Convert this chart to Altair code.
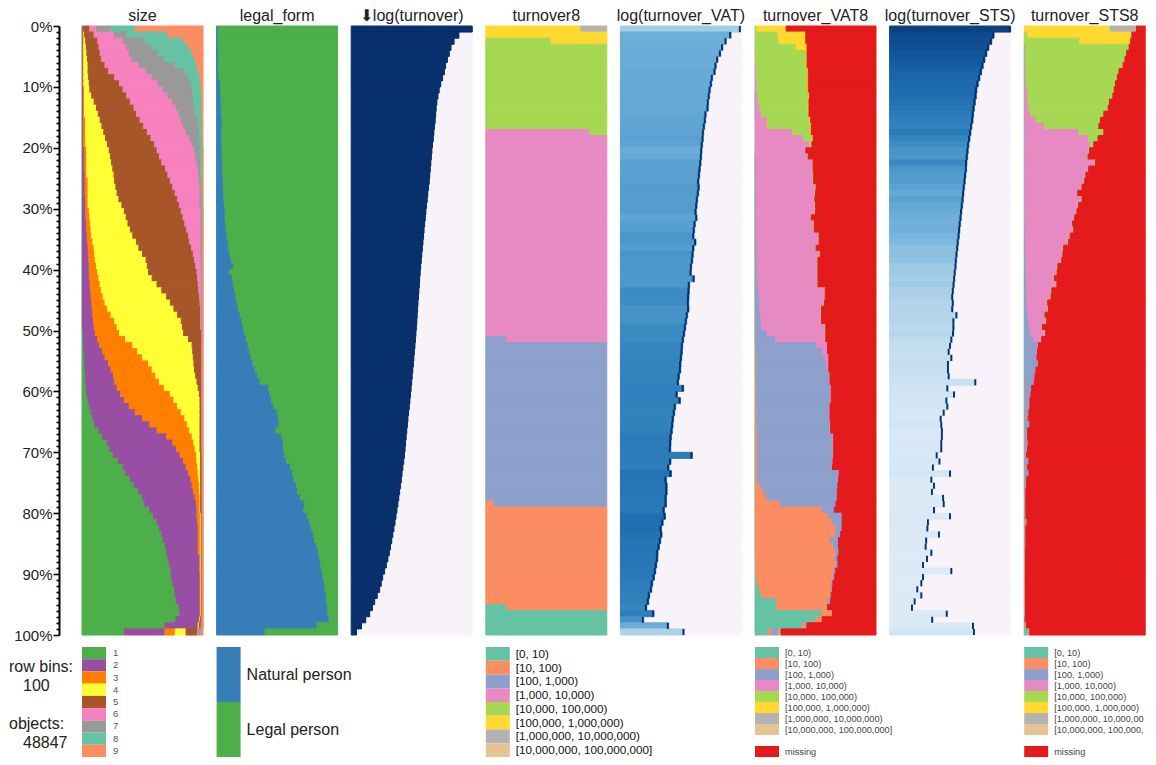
import altair as alt
import pandas as pd

# ---------------- data ----------------
N_OBJECTS = 48847
N_BINS = 100
ROWS = list(range(N_BINS))

size_labels = ["1", "2", "3", "4", "5", "6", "7", "8", "9"]
size_colors = ["#4DAF4A", "#984EA3", "#FF7F00", "#FFFF33", "#A65628",
               "#F781BF", "#999999", "#66C2A5", "#FC8D62"]

# cumulative right edge (% of row) of size classes 1..8 (class 9 fills the rest)
size_b1 = [0.4, 0.4, 0.4, 0.4, 0.4, 0.4, 0.4, 0.4, 0.4, 0.4,
           0.4, 0.4, 0.4, 0.4, 0.4, 0.4, 0.4, 0.4, 0.4, 0.4,
           0.4, 0.4, 0.4, 0.4, 0.4, 0.4, 0.4, 0.4, 0.4, 0.4,
           0.4, 0.4, 0.4, 0.4, 0.4, 0.4, 0.4, 0.4, 0.4, 0.4,
           0.4, 0.4, 0.4, 0.4, 0.4, 0.4, 0.4, 0.4, 0.4, 0.4,
           1, 1, 1.5, 1.5, 2, 2, 2.5, 3, 3, 3.5,
           4, 5, 6, 7.5, 9, 10.5, 14, 17, 21, 23,
           26, 30, 34, 36, 40, 43, 47, 50, 52, 56,
           59, 62, 64, 66, 67, 69, 70, 71, 72.5, 73.5,
           74, 75, 76.5, 77, 78, 80, 81, 77.5, 68.5, 35]
size_b2 = [1, 1, 1, 1, 1, 1, 1, 1, 1, 1,
           1.3, 1.3, 1.3, 1.3, 1.3, 1.3, 1.3, 1.3, 1.3, 1.3,
           2, 2, 2, 2, 2.5, 2.5, 2.5, 2.5, 3, 3,
           3, 3.2, 3.5, 3.8, 4.2, 4.5, 5, 5.3, 5.6, 5.8,
           6, 6.3, 6.7, 7, 7.5, 8, 8.5, 9, 9.5, 10,
           11, 13, 14.6, 17, 19, 22, 24, 26, 27, 29,
           32, 35, 39, 44, 50, 56, 62, 70, 75, 78,
           81, 84, 86, 88, 90, 91, 92, 93.5, 94.5, 95,
           95, 95.5, 96, 96, 96, 96, 96, 97.5, 97.5, 97.5,
           97.5, 97.5, 97.5, 97.5, 97.5, 97.5, 97.5, 97, 95.5, 68.5]
size_b3 = [1.5, 1.5, 1.5, 1.5, 1.5, 1.5, 1.5, 1.5, 1.5, 1.5,
           2, 2, 2, 2, 2, 3, 3, 3, 3, 3,
           4, 4, 4, 4, 4, 5, 5, 5, 5, 5,
           6, 6.5, 7, 7.5, 8, 9, 10, 10.5, 11, 12,
           13, 14, 15, 16, 17.5, 19, 21, 24, 27, 29,
           31, 36, 42, 46, 50, 55, 58, 61, 64, 68,
           73, 76, 79, 82, 85, 87, 89, 91, 92.5, 93.5,
           94.5, 95, 95.5, 96, 96.5, 97, 97, 97.5, 97.5, 97.5,
           97.8, 97.8, 97.8, 97.8, 97.8, 97.8, 97.8, 97.8, 97.8, 97.8,
           98, 98, 98, 98, 98, 98, 98, 97.5, 96.5, 77]
size_b4 = [1.5, 2, 3, 3.5, 4, 4.5, 5, 5, 5.5, 6,
           6.5, 8, 10, 12, 13.5, 15, 16.5, 18, 19.5, 21,
           22.5, 23.5, 24.5, 25.5, 26.5, 27, 28, 29, 30.5, 33,
           35, 36.5, 38, 40, 42, 45, 47, 50, 53, 54,
           55, 58, 62, 66, 70, 73, 76, 79, 82, 83,
           84, 88, 91, 91.5, 92, 92.5, 93, 94, 95, 96,
           97, 97.5, 97.5, 97.5, 97.5, 97.5, 97.5, 97.5, 97.5, 97.5,
           98, 98, 98, 98, 98, 98, 98, 98, 98, 98,
           98.5, 98.5, 98.5, 98.5, 98.5, 98.5, 98.5, 98.5, 98.5, 98.5,
           98.5, 98.5, 98.5, 98.5, 98.5, 98.5, 98.5, 98, 97, 86]
size_b5 = [6.4, 10, 13, 14, 15, 16, 19, 22, 27, 31,
           34, 37, 40, 43, 45, 48, 51, 54, 57, 60,
           62, 64, 66, 69, 71, 73, 75, 77, 79, 80.5,
           82, 83.5, 85, 86.5, 88, 89, 90.5, 92, 93, 94,
           95, 95.5, 96, 96.5, 97, 97.5, 98, 98, 98, 98,
           99, 99, 99, 99, 99, 99, 99, 99, 99, 99,
           99, 99, 99, 99, 99, 99, 99, 99, 99, 99,
           99.2, 99.2, 99.2, 99.2, 99.2, 99.2, 99.2, 99.2, 99.2, 99.2,
           99.3, 99.3, 99.3, 99.3, 99.3, 99.3, 99.3, 99.3, 99.3, 99.3,
           99.3, 99.3, 99.3, 99.3, 99.3, 99.3, 99.3, 99, 98.5, 95.5]
size_b6 = [12, 27, 34, 37, 39, 41, 47, 53, 58, 63,
           67, 71, 75, 78, 80, 82, 84, 86, 89, 91,
           93, 94, 95, 96, 96.5, 97, 97.5, 97.5, 97.5, 97.5,
           98.3, 98.3, 98.3, 98.3, 98.3, 98.3, 98.3, 98.3, 98.3, 98.3,
           98.8, 98.8, 98.8, 98.8, 98.8, 98.8, 98.8, 98.8, 98.8, 98.8,
           99.5, 99.5, 99.5, 99.5, 99.5, 99.5, 99.5, 99.5, 99.5, 99.5,
           99.5, 99.5, 99.5, 99.5, 99.5, 99.5, 99.5, 99.5, 99.5, 99.5,
           99.5, 99.5, 99.5, 99.5, 99.5, 99.5, 99.5, 99.5, 99.5, 99.5,
           99.5, 99.5, 99.5, 99.5, 99.5, 99.5, 99.5, 99.5, 99.5, 99.5,
           99.5, 99.5, 99.5, 99.5, 99.5, 99.5, 99.5, 99.5, 99.3, 96.7]
size_b7 = [24, 37, 52, 57, 63, 68, 77, 85, 88, 90,
           91, 92, 92.5, 93, 94, 96, 96.5, 97, 97.5, 97.5,
           97.5, 98, 98, 98, 98, 99, 99, 99, 99, 99,
           99.7, 99.7, 99.7, 99.7, 99.7, 99.7, 99.7, 99.7, 99.7, 99.7,
           99.7, 99.7, 99.7, 99.7, 99.7, 99.7, 99.7, 99.7, 99.7, 99.7,
           99.7, 99.7, 99.7, 99.7, 99.7, 99.7, 99.7, 99.7, 99.7, 99.7,
           99.7, 99.7, 99.7, 99.7, 99.7, 99.7, 99.7, 99.7, 99.7, 99.7,
           99.7, 99.7, 99.7, 99.7, 99.7, 99.7, 99.7, 99.7, 99.7, 99.7,
           99.7, 99.7, 99.7, 99.7, 99.7, 99.7, 99.7, 99.7, 99.7, 99.7,
           99.7, 99.7, 99.7, 99.7, 99.7, 99.7, 99.7, 99.7, 99.7, 98]
size_b8 = [44, 71, 84, 88, 91, 93, 95, 96, 97.5, 98,
           98.5, 99, 99, 99, 99, 99.5, 99.5, 99.5, 99.5, 99.5,
           99.8, 99.8, 99.8, 99.8, 99.8, 99.8, 99.8, 99.8, 99.8, 99.8,
           99.8, 99.8, 99.8, 99.8, 99.8, 99.8, 99.8, 99.8, 99.8, 99.8,
           99.8, 99.8, 99.8, 99.8, 99.8, 99.8, 99.8, 99.8, 99.8, 99.8,
           99.8, 99.8, 99.8, 99.8, 99.8, 99.8, 99.8, 99.8, 99.8, 99.8,
           99.8, 99.8, 99.8, 99.8, 99.8, 99.8, 99.8, 99.8, 99.8, 99.8,
           99.8, 99.8, 99.8, 99.8, 99.8, 99.8, 99.8, 99.8, 99.8, 99.8,
           99.8, 99.8, 99.8, 99.8, 99.8, 99.8, 99.8, 99.8, 99.8, 99.8,
           99.8, 99.8, 99.8, 99.8, 99.8, 99.8, 99.8, 99.8, 99.8, 99]

legal_labels = ["Natural person", "Legal person"]
legal_colors = ["#377EB8", "#4DAF4A"]
legal_natural = [1.2, 1.2, 1.2, 1.5, 1.5, 1.5, 1.5, 1.5, 2, 3,
                 3.5, 3.5, 3.8, 4, 4, 4.7, 4.5, 4, 4.5, 4,
                 4.5, 4.5, 5, 5, 5, 5.5, 5.5, 6, 6, 6.5,
                 7, 7, 7.5, 8, 8.5, 9.5, 10, 11, 12, 14,
                 10.5, 13, 14, 15, 16, 17, 18, 19.5, 21, 22,
                 23, 24.5, 26, 27, 28.5, 30, 32, 34, 36, 43,
                 44, 45.5, 47, 50, 51, 51.5, 49, 54, 55, 55.5,
                 56, 58, 61, 63, 64, 66, 67, 69.5, 73, 72,
                 75, 77, 78, 80, 81, 83, 84, 85, 86, 87,
                 88, 89, 89.5, 90.5, 91, 91.5, 92, 93, 83, 40]

# mean log(turnover) per row bin, as % of the column's scale
turnover_len = [100, 89, 85, 82.5, 81, 79.5, 78, 77, 75.5, 74,
                72.7, 71.7, 70.8, 70.2, 69.8, 69.4, 68.8, 68.3, 67.8, 67.2,
                66.7, 66.2, 65.8, 65.3, 64.9, 64.5, 63.9, 63.3, 62.8, 62.2,
                61.7, 61.2, 60.7, 60.2, 59.8, 59.3, 58.8, 58.3, 57.9, 57.4,
                57, 56.6, 56.3, 55.9, 55.6, 55.2, 54.9, 54.5, 54.2, 53.8,
                53.5, 53.1, 52.7, 52.2, 51.8, 51.4, 50.9, 50.4, 50, 49.5,
                49, 48.5, 48, 47.4, 46.9, 46.4, 45.9, 45.4, 44.9, 44.5,
                44, 43.4, 42.7, 42, 41.4, 40.7, 40, 39.3, 38.6, 37.8,
                37, 36.2, 35.3, 34.4, 33.5, 32.5, 31.5, 30.3, 29, 27.6,
                26, 24.8, 23.5, 21.5, 19.4, 17.5, 15.3, 12, 8.5, 4.4]
turnover_complete = 1.0

class8_labels = ["[0, 10)", "[10, 100)", "[100, 1,000)", "[1,000, 10,000)",
                 "[10,000, 100,000)", "[100,000, 1,000,000)",
                 "[1,000,000, 10,000,000)", "[10,000,000, 100,000,000]"]
class8_colors = ["#66C2A5", "#FC8D62", "#8DA0CB", "#E78AC3",
                 "#A6D854", "#FFD92F", "#B3B3B3", "#E5C494"]
missing_color = "#E41A1C"

# share (% of all objects) of each turnover8 class
turnover8_share = [4.17, 16.9, 27.1, 34.69, 14.68, 2.245, 0.215, 0.0]

vat_len = [99.5, 91.5, 87.6, 84.8, 83, 80.7, 79.3, 78.5, 76.3, 75.5,
           74.4, 73.8, 73, 72.7, 71, 70.5, 69.7, 68.9, 68.6, 68,
           67.5, 67.2, 66.7, 66.1, 65.6, 65, 65.3, 64.7, 63.9, 63.4,
           62.8, 63.4, 62, 61.4, 60.9, 62.5, 60.9, 60.3, 59.8, 59,
           58.7, 61.2, 57.3, 57, 56.7, 56.5, 56.7, 55.6, 54.8, 54,
           53.2, 52.3, 51.5, 51.2, 50.7, 50.1, 49.9, 48.8, 48.2, 52.3,
           47.1, 49.6, 45.7, 44.9, 44, 43.5, 42.9, 42.1, 41.8, 41.6,
           59.5, 41.8, 40.2, 42.1, 38, 38.6, 38.6, 38, 38, 36.4,
           37.2, 35.3, 33.9, 34.4, 33.3, 32.2, 31.1, 30.9, 30, 29.2,
           28.1, 26.7, 25.9, 24.2, 23.4, 21.8, 27.8, 19.3, 40, 52.9]

# turnover_VAT8: % of row in each class (rest = missing)
vat_teal = [0, 0, 0, 0, 0, 0, 0, 0, 0, 0,
            0, 0, 0, 0, 0, 0, 0, 0, 0, 0,
            0, 0.2, 0.2, 0.2, 0.2, 0.2, 0.2, 0.2, 0.2, 0.2,
            0.2, 0.2, 0.2, 0.2, 0.2, 0.2, 0.2, 0.2, 0.2, 0.2,
            0.2, 0.2, 0.2, 0.2, 0.2, 0.2, 0.2, 0.2, 0.2, 0.2,
            0.2, 0.2, 0.3, 0.3, 0.3, 0.3, 0.3, 0.3, 0.3, 0.3,
            0.3, 0.3, 0.3, 0.3, 0.3, 0.3, 0.3, 0.3, 0.3, 0.3,
            0.3, 0.3, 0.3, 0.3, 0.3, 0.3, 0.3, 0.3, 0.3, 0.3,
            0.3, 0.3, 0.3, 0.3, 0.3, 0.3, 0.3, 0.5, 0.5, 0.5,
            1, 1.5, 3.6, 5.5, 18, 18, 55.5, 50, 39, 11]
vat_salmon = [0, 0, 0, 0, 0, 0, 0, 0, 0, 0,
              0, 0, 0, 0, 0, 0, 0, 0, 0, 0,
              0, 0.2, 0.2, 0.2, 0.2, 0.2, 0.2, 0.2, 0.2, 0.2,
              0.2, 0.2, 0.3, 0.3, 0.3, 0.3, 0.3, 0.3, 0.3, 0.3,
              0.3, 0.3, 0.4, 0.4, 0.4, 0.4, 0.4, 0.4, 0.5, 0.5,
              0.5, 0.5, 0.7, 0.7, 0.7, 0.7, 0.7, 0.9, 0.9, 0.9,
              0.9, 0.9, 1.2, 1.2, 1.2, 1.2, 1.7, 1.7, 1.7, 1.7,
              1.7, 1.7, 1.7, 1.7, 1.7, 3.7, 6.7, 9.4, 20.5, 55.2,
              60.7, 63.7, 66.7, 66.4, 62.2, 64.7, 66.4, 65.5, 67, 64.5,
              63.7, 61.5, 59.7, 57, 42.5, 41, 8.5, 5.5, 2.7, 3]
vat_blue = [0, 0, 0, 0, 0, 0, 0, 0, 0, 0,
            0, 0.3, 0.3, 0.3, 0.3, 0.5, 0.5, 0.5, 0.5, 0.5,
            0.5, 0.4, 0.4, 0.4, 0.4, 0.4, 0.4, 0.6, 0.6, 0.6,
            0.6, 0.6, 0.7, 0.7, 0.7, 1, 1, 1, 1.5, 1.5,
            1.5, 1.5, 1.9, 2.4, 2.9, 3.4, 3.4, 3.9, 4.3, 4.8,
            9.3, 16.3, 50, 55, 57, 58, 59, 60.3, 60.3, 61.3,
            61.3, 61.3, 60, 60, 60, 60.5, 60, 62.5, 62.5, 62.5,
            62.5, 62, 61.5, 67, 66.5, 64.5, 61, 58.3, 46.2, 10,
            11, 8, 5, 4.1, 6.5, 4, 2.7, 2.4, 1.2, 1.7,
            1.2, 1.4, 0.7, 0.5, 2, 1, 0, 0, 1.3, 5.4]
vat_pink = [0, 0, 0, 0.3, 0.5, 0.5, 1, 1, 1, 1.5,
            1.5, 1.7, 2.7, 3.7, 4.7, 9.5, 9.5, 30.5, 39.5, 44.5,
            41, 42.7, 46.7, 46.7, 47.2, 47.2, 49.2, 48.5, 48, 48.5,
            48.5, 45, 47.3, 47.3, 51.3, 51, 48.5, 52, 49.5, 49.5,
            49.5, 49.5, 49, 54.5, 54, 53, 50.5, 50, 49.5, 52.5,
            48, 41, 9, 4, 3, 2, 1, 0.5, 0.5, 0.5,
            0.5, 0.5, 0.5, 0.5, 0.5, 0.5, 0.5, 0.5, 0.5, 0.5,
            0.5, 0.5, 0.5, 0.5, 0.5, 0, 0, 0, 0, 0,
            0, 0, 0, 0, 0, 0, 0, 0, 0, 0,
            0, 0, 0, 0, 0, 0, 0, 0, 0, 0.9]
vat_green = [1.5, 19, 20, 33.7, 42, 42, 41.5, 42.5, 42.5, 42,
             42, 42.5, 41, 40, 39, 35.5, 36, 15, 7.5, 1.5,
             0.5, 0.5, 0.5, 0.5, 0.5, 0.5, 0.5, 0.5, 0.5, 0.5,
             0.5, 0.5, 0.5, 0.5, 0.5, 0.5, 0.5, 0.5, 0.5, 0.5,
             0.5, 0.5, 0.5, 0.5, 0.5, 0.5, 0.5, 0.5, 0.5, 0.5,
             0.5, 0.5, 0, 0, 0, 0, 0, 0, 0, 0,
             0, 0, 0, 0, 0, 0, 0, 0, 0, 0,
             0, 0, 0, 0, 0, 0, 0, 0, 0, 0,
             0, 0, 0, 0, 0, 0, 0, 0, 0, 0,
             0, 0, 0, 0, 0, 0, 0, 0, 0, 0.7]
vat_yellow = [24.3, 23, 22, 9, 0.5, 0.5, 0.5, 0.5, 0.5, 0.5,
              0.5, 0.5, 0.6, 0.6, 0.6, 0.5, 0.5, 0.5, 0.5, 0.5,
              0, 0, 0, 0, 0, 0, 0, 0, 0, 0,
              0, 0, 0, 0, 0, 0, 0, 0, 0, 0,
              0, 0, 0, 0, 0, 0, 0, 0, 0, 0,
              0, 0, 0, 0, 0, 0, 0, 0, 0, 0,
              0, 0, 0, 0, 0, 0, 0, 0, 0, 0,
              0, 0, 0, 0, 0, 0, 0, 0, 0, 0,
              0, 0, 0, 0, 0, 0, 0, 0, 0, 0,
              0, 0, 0, 0, 0, 0, 0, 0, 0, 0.4]

sts_len = [100, 86.3, 84.4, 82, 80.3, 78.7, 77.3, 76, 74.6, 73.2,
           72.1, 71.6, 70.8, 70, 69.4, 68.9, 68, 67.2, 66.4, 65.6,
           65, 64.5, 63.9, 63.7, 63.1, 62.6, 62, 61.5, 61, 60.4,
           59.8, 59.3, 58.7, 58.2, 57.7, 57.1, 56.6, 56, 55.5, 55.2,
           54.6, 54.1, 53.6, 53, 52.5, 53, 52.5, 56, 53.5, 53.5,
           53.2, 51.8, 50.7, 49.6, 51.8, 49, 49, 49.6, 71.6, 48.5,
           54, 47.7, 48.5, 45.5, 43, 43.5, 44, 44, 43.5, 43.5,
           39.7, 42, 36.6, 50.7, 35.3, 37.5, 35.8, 45, 45.5, 37.5,
           50.7, 32.5, 32, 41.6, 31, 30.6, 35.3, 31.7, 28.4, 51.8,
           28.4, 27, 23.7, 27, 21.5, 19.3, 48, 36, 69.7, 70.5]

# turnover_STS8: % of row in each class (rest = missing)
sts_teal = [0, 0, 0, 0.5, 0.5, 0.5, 0.5, 0.5, 0.5, 0.5,
            0.5, 0.5, 0.5, 0.5, 0.5, 0.5, 0.5, 0.5, 0.5, 0.5,
            0.5, 0.5, 0.5, 0.5, 0.5, 0.5, 0.5, 0.5, 0.5, 0.5,
            0.5, 0.5, 0.5, 0.5, 0.5, 0.5, 0.5, 0.5, 0.5, 0.5,
            0.5, 0.5, 0.5, 0.5, 0.5, 0.5, 0.5, 0.5, 0.5, 0.5,
            0.5, 0.5, 0.5, 0.5, 0.5, 0.5, 0.5, 0.5, 0.5, 0.5,
            0.5, 0.5, 0.5, 0.5, 0.5, 0.5, 0.5, 0.5, 0.5, 0.5,
            0.5, 0.5, 0.5, 0.5, 0.5, 0.5, 0.3, 0.3, 0.3, 0.3,
            0.3, 0.3, 0.3, 0.3, 0.3, 0.3, 0.3, 0.3, 0.3, 0.3,
            0.3, 0.3, 0.3, 0.3, 0.3, 0.3, 0.3, 0.3, 0.6, 3]
sts_salmon = [0, 0, 0, 0, 0, 0, 0, 0, 0, 0,
              0, 0, 0, 0, 0, 0, 0, 0, 0, 0,
              0, 0, 0, 0, 0, 0, 0, 0, 0, 0,
              0, 0, 0, 0, 0, 0, 0, 0, 0, 0,
              0, 0, 0, 0, 0, 0, 0, 0, 0, 0,
              0, 0, 0, 0, 0, 0, 0, 0, 0.2, 0.2,
              0.2, 0.2, 0.2, 0.2, 0.2, 0.2, 0.3, 0.3, 0.3, 0.3,
              0.3, 0.3, 0.3, 0.3, 0.3, 0.3, 0.5, 0.5, 0.5, 0.5,
              0.5, 1.2, 0.6, 0.6, 0.6, 0.6, 0.5, 0.5, 0.5, 0.5,
              0.5, 0.5, 0.5, 0.5, 0.5, 0.5, 0.5, 0.3, 0.8, 1]
sts_blue = [0, 0, 0, 0, 0, 0, 0, 0, 0, 0,
            0, 0, 0, 0, 0, 0, 0, 0, 0, 0,
            0, 0, 0, 0, 0, 0, 0, 0, 0, 0,
            0, 0, 0, 0.3, 0.3, 0.5, 0.5, 0.7, 0.8, 1,
            1, 1.2, 1.3, 1.5, 1.5, 1.8, 2, 2.5, 3, 4,
            5, 7, 10.7, 10, 9.5, 10.7, 8.7, 7.9, 7.4, 5.2,
            4.7, 3.8, 3.8, 3, 2.4, 3.8, 1.8, 1.8, 2.3, 1.8,
            1, 2.9, 1.8, 2.9, 1, 1, 0.6, 0.6, 0.6, 0.6,
            0.6, 1, 0.5, 0.5, 0.5, 0.5, 0.3, 0.3, 0.3, 0.3,
            0.3, 0.3, 0.3, 0.3, 0.3, 0.3, 0.3, 0.2, 0.5, 0.7]
sts_pink = [0, 0, 0, 0.5, 0.5, 0.5, 0.5, 0.8, 0.8, 1,
            2.3, 2.5, 2.8, 3, 5, 9.5, 16.2, 44.5, 52.5, 54,
            52.5, 51.8, 58, 52.3, 50, 49, 46.8, 43.2, 46.8, 44,
            42.6, 40.7, 39, 39.7, 36.7, 35.2, 31, 30.3, 29.2, 25.8,
            25.2, 22.8, 24.7, 20.3, 19.7, 16.6, 17, 13.7, 14.6, 10,
            11.8, 6.4, 0.5, 0.5, 0.5, 0.5, 0.5, 0.5, 0.2, 0.2,
            0.2, 0.2, 0.2, 0.2, 0.2, 0.2, 0.2, 0.2, 0.2, 0.2,
            0.2, 0.2, 0.2, 0.2, 0.2, 0.2, 0, 0, 0, 0,
            0, 0, 0, 0, 0, 0, 0, 0, 0, 0,
            0, 0, 0, 0, 0, 0, 0, 0, 0, 0]
sts_green = [0, 3, 46, 85.7, 83.7, 82.3, 80.7, 77, 75.7, 74,
             71.6, 70.3, 67.2, 65.9, 60.3, 53, 45, 20.8, 8, 3,
             1, 0.5, 0.5, 0.5, 0.5, 0.5, 0.5, 0.5, 0.5, 0.5,
             0.5, 0.5, 0.5, 0.5, 0.5, 0.5, 0.5, 0.5, 0.5, 0.5,
             0.5, 0.5, 0.5, 0.5, 0.5, 0.5, 0.5, 0.5, 0.5, 0.5,
             0.5, 0.5, 0, 0, 0, 0, 0, 0, 0, 0,
             0, 0, 0, 0, 0, 0, 0, 0, 0, 0,
             0, 0, 0, 0, 0, 0, 0, 0, 0, 0,
             0, 0, 0, 0, 0, 0, 0, 0, 0, 0,
             0, 0, 0, 0, 0, 0, 0, 0, 0, 0]
sts_yellow = [71, 86, 42, 0, 0, 0, 0, 0, 0, 0,
              0, 0, 0, 0, 0, 0, 0, 0, 0, 0,
              0, 0, 0, 0, 0, 0, 0, 0, 0, 0,
              0, 0, 0, 0, 0, 0, 0, 0, 0, 0,
              0, 0, 0, 0, 0, 0, 0, 0, 0, 0,
              0, 0, 0, 0, 0, 0, 0, 0, 0, 0,
              0, 0, 0, 0, 0, 0, 0, 0, 0, 0,
              0, 0, 0, 0, 0, 0, 0, 0, 0, 0,
              0, 0, 0, 0, 0, 0, 0, 0, 0, 0,
              0, 0, 0, 0, 0, 0, 0, 0, 0, 0]
sts_grey = [21.8, 0, 0, 0, 0, 0, 0, 0, 0, 0,
            0, 0, 0, 0, 0, 0, 0, 0, 0, 0,
            0, 0, 0, 0, 0, 0, 0, 0, 0, 0,
            0, 0, 0, 0, 0, 0, 0, 0, 0, 0,
            0, 0, 0, 0, 0, 0, 0, 0, 0, 0,
            0, 0, 0, 0, 0, 0, 0, 0, 0, 0,
            0, 0, 0, 0, 0, 0, 0, 0, 0, 0,
            0, 0, 0, 0, 0, 0, 0, 0, 0, 0,
            0, 0, 0, 0, 0, 0, 0, 0, 0, 0,
            0, 0, 0, 0, 0, 0, 0, 0, 0, 0]

# ---------------- styling ----------------
FONT = "Liberation Sans"
PANEL_W = 121
PANEL_H = 609
LEG_H = 110
BG = "#F7F3F8"
NAVY = "#08306B"
SEAM = 1.0
comp_domain = [0, 0.25, 0.45, 0.62, 0.8, 1.0]
comp_range = ["#DEEBF7", "#A6CDE6", "#63A8D6", "#3182BD", "#1560A8", "#08306B"]

xs = alt.Scale(domain=[0, 100], nice=False, zero=False)
ys = alt.Scale(domain=[0, 100], reverse=True, nice=False, zero=False)


# ---------------- builders ----------------
def records_from_bounds(bounds, labels):
    recs = []
    for r in ROWS:
        prev = 0.0
        for lab, b in zip(labels[:-1], bounds):
            edge = max(prev, b[r])
            if edge > prev:
                recs.append({"y0": r, "y1": r + 1, "x0": prev, "x1": edge, "cat": lab})
            prev = edge
        if prev < 100:
            recs.append({"y0": r, "y1": r + 1, "x0": prev, "x1": 100.0, "cat": labels[-1]})
    return pd.DataFrame(recs)


def records_from_shares(shares, labels, missing_label=None):
    recs = []
    for r in ROWS:
        x = 0.0
        for lab, s in zip(labels, shares):
            w = s[r]
            if w > 0:
                recs.append({"y0": r, "y1": r + 1, "x0": x, "x1": x + w, "cat": lab})
                x += w
        if missing_label is not None and x < 100:
            recs.append({"y0": r, "y1": r + 1, "x0": x, "x1": 100.0, "cat": missing_label})
    return pd.DataFrame(recs)


def binned_class_shares(total_share):
    # objects sorted by decreasing turnover: highest class occupies the top rows
    spans = {}
    pos = 0.0
    for k in reversed(range(len(total_share))):
        spans[k] = (pos, pos + total_share[k])
        pos += total_share[k]
    out = []
    for k in range(len(total_share)):
        a, b = spans[k]
        out.append([max(0.0, min(b, r + 1) - max(a, r)) * 100.0 for r in ROWS])
    return out


y_axis = alt.Axis(
    values=list(range(0, 101)),
    labelExpr="datum.value % 10 === 0 ? datum.value + '%' : ''",
    tickSize={"condition": {"test": "datum.value % 10 === 0", "value": 6}, "value": 3},
    tickWidth=1.6, tickColor="#000", domainColor="#000", domainWidth=2,
    labelFontSize=15, labelColor="#222", labelFont=FONT, labelPadding=1,
    labelOverlap=False, grid=False, offset=23, title="",
)


def title_layer(text):
    return alt.Chart(pd.DataFrame({"t": [text]})).mark_text(
        align="center", baseline="middle", fontSize=16, color="#222", font=FONT).encode(
        x=alt.value(PANEL_W / 2), y=alt.value(-10), text="t:N")


def cat_panel(df, labels, colors, title, axis=None):
    cs = alt.Scale(domain=labels, range=colors)
    rects = alt.Chart(df).mark_rect(strokeWidth=SEAM).encode(
        x=alt.X("x0:Q", scale=xs, axis=None),
        x2="x1:Q",
        y=alt.Y("y0:Q", scale=ys, axis=axis),
        y2="y1:Q",
        color=alt.Color("cat:N", scale=cs, legend=None),
        stroke=alt.Stroke("cat:N", scale=cs, legend=None),
    )
    return alt.layer(rects, title_layer(title)).properties(width=PANEL_W, height=PANEL_H)


def num_panel(lengths, comp, title):
    df = pd.DataFrame({"y0": ROWS, "y1": [r + 1 for r in ROWS], "len": lengths, "comp": comp})
    df["start"] = 0.0
    df["end"] = 100.0
    df["tick0"] = df["len"] - 1.6
    base = alt.Chart(df).encode(y=alt.Y("y0:Q", scale=ys, axis=None), y2="y1:Q")
    cs = alt.Scale(domain=comp_domain, range=comp_range, interpolate="rgb")
    bg = base.mark_rect(color=BG, stroke=BG, strokeWidth=SEAM).encode(
        x=alt.X("len:Q", scale=xs, axis=None), x2="end:Q")
    bar = base.mark_rect(strokeWidth=SEAM).encode(
        x=alt.X("start:Q", scale=xs, axis=None), x2="len:Q",
        color=alt.Color("comp:Q", scale=cs, legend=None),
        stroke=alt.Stroke("comp:Q", scale=cs, legend=None))
    end_mark = base.mark_rect(color=NAVY).encode(
        x=alt.X("tick0:Q", scale=xs, axis=None), x2="len:Q")
    return alt.layer(bg, bar, end_mark, title_layer(title)).properties(width=PANEL_W, height=PANEL_H)


def legend_chart(labels, colors, slots, font_size, text_color, label_x, extra=None, limit=0):
    df = pd.DataFrame({"label": labels})
    yenc = alt.Y("label:N", scale=alt.Scale(domain=slots, paddingInner=0, paddingOuter=0), axis=None)
    boxes = alt.Chart(df).mark_rect().encode(
        x=alt.value(0), x2=alt.value(24), y=yenc,
        color=alt.Color("label:N", scale=alt.Scale(domain=labels, range=colors), legend=None))
    text_props = dict(align="left", baseline="middle", fontSize=font_size, color=text_color, font=FONT)
    if limit:
        text_props.update(limit=limit, ellipsis="\u200b")
    texts = alt.Chart(df).mark_text(**text_props).encode(
        x=alt.value(label_x), y=yenc, text="label:N")
    layers = [boxes, texts] + (extra or [])
    return alt.layer(*layers).properties(width=PANEL_W, height=LEG_H)


def note(text, x, y):
    return alt.Chart(pd.DataFrame({"t": [text]})).mark_text(
        align="left", baseline="middle", fontSize=16, color="#222", font=FONT).encode(
        x=alt.value(x), y=alt.value(y), text="t:N")


def blank():
    return alt.Chart(pd.DataFrame({"t": [""]})).mark_text().encode(
        text="t:N").properties(width=PANEL_W, height=LEG_H)


# ---------------- panels ----------------
size_df = records_from_bounds([size_b1, size_b2, size_b3, size_b4, size_b5,
                               size_b6, size_b7, size_b8], size_labels)
legal_df = records_from_bounds([legal_natural], legal_labels)
t8_df = records_from_shares(binned_class_shares(turnover8_share), class8_labels)

vat_shares = [vat_teal, vat_salmon, vat_blue, vat_pink, vat_green, vat_yellow]
sts_shares = [sts_teal, sts_salmon, sts_blue, sts_pink, sts_green, sts_yellow, sts_grey]
vat8_df = records_from_shares(vat_shares, class8_labels[:6], "missing")
sts8_df = records_from_shares(sts_shares, class8_labels[:7], "missing")
vat_comp = [sum(s[r] for s in vat_shares) / 100.0 for r in ROWS]
sts_comp = [sum(s[r] for s in sts_shares) / 100.0 for r in ROWS]
turn_comp = [turnover_complete for r in ROWS]

lab9 = class8_labels + ["missing"]
col9 = class8_colors + [missing_color]

panels = [
    cat_panel(size_df, size_labels, size_colors, "size", axis=y_axis),
    cat_panel(legal_df, legal_labels, legal_colors, "legal_form"),
    num_panel(turnover_len, turn_comp, "\u2b07log(turnover)"),
    cat_panel(t8_df, class8_labels, class8_colors, "turnover8"),
    num_panel(vat_len, vat_comp, "log(turnover_VAT)"),
    cat_panel(vat8_df, lab9, col9, "turnover_VAT8"),
    num_panel(sts_len, sts_comp, "log(turnover_STS)"),
    cat_panel(sts8_df, lab9, col9, "turnover_STS8"),
]

notes = [note("row bins:", -73, 20), note(str(N_BINS), -59, 39),
         note("objects:", -73, 77), note(str(N_OBJECTS), -59, 96)]

slots9 = class8_labels + [" ", "missing"]
legends = [
    legend_chart(size_labels, size_colors, size_labels, 9.5, "#555", 31, extra=notes),
    legend_chart(legal_labels, legal_colors, legal_labels, 16, "#222", 30),
    blank(),
    legend_chart(class8_labels, class8_colors, class8_labels, 11.7, "#111", 30),
    blank(),
    legend_chart(lab9, col9, slots9, 9.2, "#444", 30),
    blank(),
    legend_chart(lab9, col9, slots9, 9.2, "#444", 30, limit=92),
]

chart = alt.concat(*panels, *legends, columns=8,
                   spacing={"row": 12, "column": 13.6}, bounds="flush").properties(
    padding={"left": 1, "top": 0, "right": 0, "bottom": 0},
).configure(font=FONT).configure_view(strokeWidth=0)

chart.save("out.html", embed_options={"renderer": "svg", "actions": False})
